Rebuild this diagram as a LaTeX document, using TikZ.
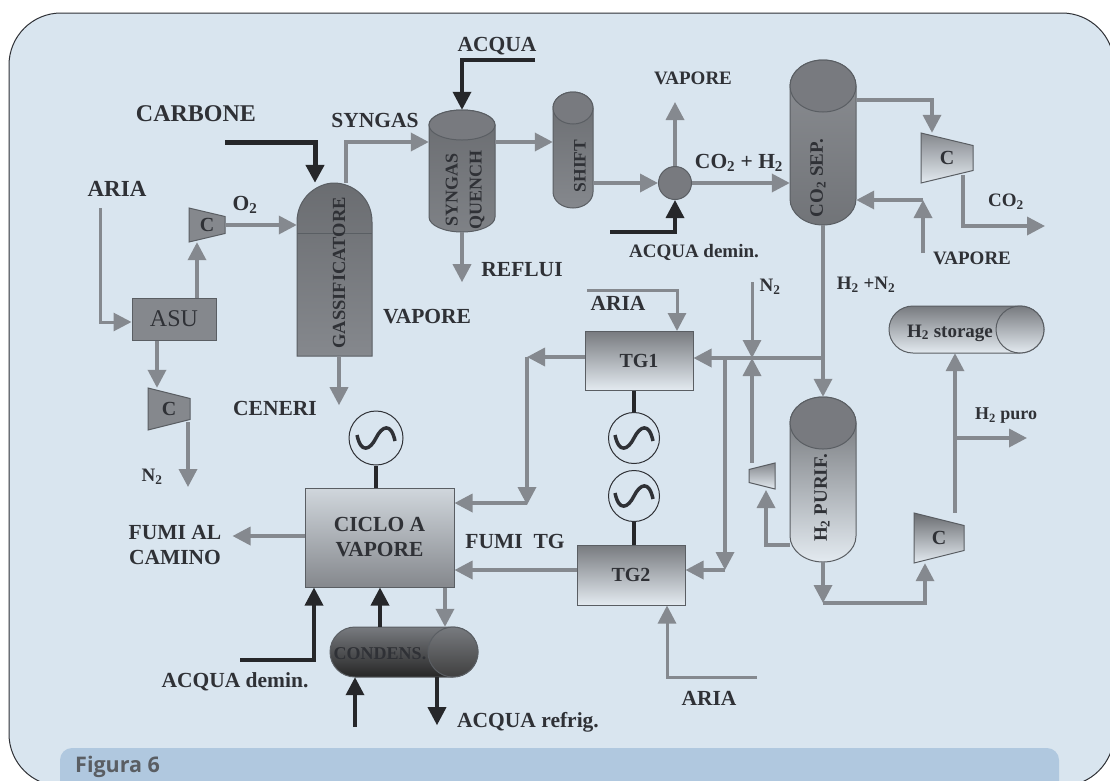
\documentclass[tikz,border=0pt]{standalone}
\usepackage{fontspec}
\setmainfont{Liberation Serif}
\newfontfamily\bandfont{Open Sans}
\usetikzlibrary{arrows.meta}
\definecolor{panelblue}{HTML}{D9E5EF}
\definecolor{bandblue}{HTML}{B0C8DF}
\definecolor{flowgray}{HTML}{85898F}
\definecolor{feedblack}{HTML}{26272A}
\definecolor{ink}{HTML}{2F3136}
\definecolor{wallgray}{HTML}{5A5E63}
\definecolor{midgray}{HTML}{85888D}
\definecolor{lightgray}{HTML}{E3EAF0}
\tikzset{
  lab/.style={font=\fontsize{21.5}{25}\selectfont\bfseries,text=ink,inner sep=0pt,align=center},
  sml/.style={font=\fontsize{19}{22}\selectfont\bfseries,text=ink,inner sep=0pt,align=center},
  rot/.style={sml,rotate=90},
  pipe/.style={line width=3.5pt,draw=flowgray},
  flow/.style={pipe,-{Triangle[width=18pt,length=18pt]}},
  sideflow/.style={flow,line width=3pt},
  feed/.style={line width=3.5pt,draw=feedblack,-{Triangle[width=18pt,length=18pt]}},
  shaft/.style={line width=3.5pt,draw=feedblack},
  wall/.style={draw=wallgray,line width=1pt},
  fade/.style={wall,top color=#1,bottom color=lightgray},
  gen/.style={circle,draw=ink,line width=1pt,minimum size=51pt,inner sep=0pt,path picture={
    \draw[line width=3.5pt,draw=ink,shift={(path picture bounding box.center)}]
      (-19,-3) .. controls (-15,16) and (-6,12) .. (0,0) .. controls (6,-12) and (15,-16) .. (19,3);}}
}
\newcommand{\vessel}[7]{
  \path[wall,#7] (#2-#5,#3+#6) arc (180:0:#5pt and #6pt) -- (#2+#5,#4-#6) arc (360:180:#5pt and #6pt) -- cycle;
  \path[wall,fill=midgray!90!black] (#2,#3+#6) ellipse (#5pt and #6pt);
  \node[inner sep=0pt,minimum width=2*#5,minimum height=#4-#3] (#1) at (#2,#3/2+#4/2) {};
}
\newcommand{\compr}[7]{
  \path[wall,#6] (#2-#4,#3-#5) -- (#2+#4,#3-#5/2) -- (#2+#4,#3+#5/2) -- (#2-#4,#3+#5) -- cycle;
  \node[inner sep=0pt,font=\fontsize{20}{22}\selectfont\bfseries,text=ink,minimum width={abs(2*#4)},minimum height=2*#5] (#1) at (#2,#3) {#7};
}
\begin{document}
\begin{tikzpicture}[x=1pt,y=-1pt]
\useasboundingbox (0,0) rectangle (1110,780);
\clip (0,0) rectangle (1110,780);
\fill[white] (0,0) rectangle (1110,780);
\draw[fill=panelblue,draw=ink,line width=1pt,rounded corners=52pt] (9,13) rectangle (1114,786);
\fill[bandblue,rounded corners=12pt] (60,748) rectangle (1059,800);
\node[font=\bandfont\fontsize{21.5}{24}\selectfont\bfseries,text=wallgray,anchor=west,inner sep=0pt] (fig) at (75,767) {Figura 6};

% gassificatore
\path[wall,top color=midgray!80!black,bottom color=midgray] (297,356) -- (297,222) .. controls (297,197) and (318,183) .. (334,183) .. controls (352,183) and (372,197) .. (372,222) -- (372,356) -- cycle;
\draw[wall] (297,233) -- (372,233);
\node[inner sep=0pt,minimum width=75,minimum height=173] (gas) at (334.5,269.5) {};
\node[rot,font=\fontsize{18.5}{20}\selectfont\bfseries] (gastxt) at (339,273) {GASSIFICATORE};

\vessel{quench}{462}{110}{232}{33}{15}{top color=midgray!80!black,bottom color=midgray!95!black}
\node[rot,font=\fontsize{18}{24}\selectfont\bfseries] (quenchtxt) at (465,190) {SYNGAS\\QUENCH};
\vessel{shift}{573}{92}{208}{20}{16}{top color=midgray!80!black,bottom color=midgray}
\node[rot,font=\fontsize{17.5}{20}\selectfont\bfseries] (shifttxt) at (580,166) {SHIFT};
\vessel{sep}{823}{60}{225}{33}{26}{top color=midgray!95,bottom color=midgray!85!black}
\node[rot] (septxt) at (818,178) {CO\textsubscript{2} SEP.};
\vessel{purif}{823}{397}{562}{33}{26}{fade=midgray!80!black}
\node[rot] (puriftxt) at (822,498) {H\textsubscript{2} PURIF.};
\node[circle,wall,fill=midgray!90!black,minimum size=33pt,inner sep=0pt] (mix) at (675,183) {};

% caldaie e turbine
\node[wall,fill=midgray,minimum width=84,minimum height=42,inner sep=0pt,font=\fontsize{24}{26}\selectfont,text=ink] (asu) at (174,319) {ASU\hspace{12pt}};
\node[fade=midgray!90!black,minimum width=108,minimum height=59,inner sep=0pt,font=\fontsize{20}{22}\selectfont\bfseries,text=ink] (tgA) at (639,360.5) {TG1\hspace{12pt}};
\node[fade=midgray!90!black,minimum width=108,minimum height=60,inner sep=0pt,font=\fontsize{20}{22}\selectfont\bfseries,text=ink] (tgB) at (631,575) {TG2\hspace{8pt}};
\node[wall,top color=lightgray!80!midgray,bottom color=midgray,minimum width=149,minimum height=99,inner sep=0pt,align=center,font=\fontsize{21.5}{25}\selectfont\bfseries,text=ink] (steam) at (379.5,537.5) {CICLO A\\VAPORE};

\compr{cAsu}{207}{225}{18}{17}{fill=midgray}{C}
\compr{cNit}{169}{409}{21}{21}{fill=midgray}{C\hspace{6pt}}
\compr{cSep}{947}{158}{26}{25}{top color=midgray,bottom color=lightgray}{C\hspace{12pt}}
\compr{cPur}{939}{538}{25}{25}{top color=midgray!80!black,bottom color=lightgray}{C\hspace{12pt}}
\compr{cRet}{762}{476}{-13}{13}{top color=midgray,bottom color=lightgray}{}

\node[gen] (genA) at (634,438) {};
\node[gen] (genB) at (634,496) {};
\node[gen,minimum size=54pt] (genC) at (376,438) {};

% serbatoi orizzontali
\path[wall,top color=midgray!90!black,bottom color=lightgray] (913,306) -- (1020,306) arc (90:-90:24pt and 23.5pt) -- (913,353) arc (270:90:24pt and 23.5pt) -- cycle;
\path[wall,top color=midgray!90!black,bottom color=lightgray] (1020,329.5) ellipse (24pt and 23.5pt);
\node[inner sep=0pt,minimum width=156,minimum height=47] (store) at (967,329.5) {};
\node[sml] (storetxt) at (950,333) {H\textsubscript{2} storage};
\path[wall,top color=midgray!90!black,bottom color=black!85] (355,627) -- (453,627) arc (90:-90:25pt and 25pt) -- (355,677) arc (270:90:25pt and 25pt) -- cycle;
\path[wall,top color=midgray!90!black,bottom color=black!75] (453,652) ellipse (25pt and 25pt);
\node[inner sep=0pt,minimum width=148,minimum height=50] (cond) at (404,652) {};
\node[font=\fontsize{18}{20}\selectfont\bfseries,text=ink,inner sep=0pt] (condtxt) at (380,654) {CONDENS.};

% coordinate libere
\coordinate (ariaA) at (100,208);
\coordinate (carb) at (225,142);
\coordinate (acq) at (535,60);
\coordinate (dem) at (610,232);
\coordinate (demB) at (240,660);
\coordinate (ariaB) at (587,290);
\coordinate (ariaC) at (757,677);
\coordinate (nitIn) at (752,282);
\coordinate (vapIn) at (923,253);
\coordinate (refrIn) at (355,727);
\coordinate (nodeA) at (823,358);
\coordinate (nodeB) at (752,358);
\coordinate (nodeC) at (725,358);
\coordinate (nodeD) at (527,357);
\coordinate (nodeE) at (923,200);
\coordinate (nodeF) at (955,438);
\coordinate (nodeG) at (823,603);

% linee aria e ossigeno
\draw[sideflow] (ariaA) |- (asu.west |- 0,322);
\draw[flow] (asu.north -| 197,0) -- (cAsu.south -| 197,0);
\draw[flow] (cAsu.east) -- (gas.west |- cAsu.east);
\draw[flow] (asu.south -| 157,0) -- (cNit.north -| 157,0);
\draw[flow] (188,422) -- (188,487);
\draw[feed,line width=5pt] (carb) -| (gas.north -| 315,0);
\draw[flow] (gas.north -| 346,0) |- (quench.west |- 0,142);
\draw[feed] (acq) -| (quench.north);
\draw[flow] (quench.east |- 0,142) -- (shift.west |- 0,142);
\draw[flow] (quench.south) -- ++(0,50);
\draw[flow] (gas.south -| 339,0) -- ++(0,49);
\draw[flow] (shift.east |- mix.west) -- (mix.west);
\draw[flow] (mix.north) -- ++(0,-64);
\draw[feed] (dem) -| (mix.south);
\draw[flow] (mix.east) -- (sep.west |- mix.east);

% separatore e compressori
\draw[flow] (sep.east |- 0,100) -| (cSep.north -| 932,0);
\draw[flow] (963,175) |- (1045,226);
\draw[flow] (vapIn) -- (nodeE);
\draw[flow] (nodeE) -- (sep.east |- nodeE);
\draw[flow] (sep.south) -- (purif.north);
\draw[flow] (nodeA) -- (tgA.east |- nodeA);
\draw[sideflow] (ariaB) -| (677,331);
\draw[sideflow] (nitIn) -- (nodeB);
\draw[flow] (nodeB |- cRet.north) -- (nodeB);
\draw[flow] (purif.west |- 0,545) -| (766,490);
\draw[flow] (nodeC) -- (725,570);
\draw[flow] (725,570) -- (tgB.east |- 0,570);
\draw[flow] (purif.south) -- (nodeG);
\draw[flow] (nodeG) -| (cPur.south -| 925,0);
\draw[flow] (cPur.north -| 955,0) -- (store.south -| 955,0);
\draw[flow] (nodeF) -- ++(72,0);

% turbine e ciclo a vapore
\draw[flow] (tgA.west |- nodeD) -- (nodeD);
\draw[flow] (nodeD) -- (527,505);
\draw[flow] (527,503) -- (steam.east |- 0,503);
\draw[flow] (tgB.west |- 0,570) -- (steam.east |- 0,570);
\draw[flow] (steam.west |- 0,536) -- ++(-72,0);
\draw[shaft] (tgA.south -| genA) -- (genA.north);
\draw[shaft] (genB.south) -- (tgB.north -| genB);
\draw[shaft] (genC.south) -- (steam.north -| genC);
\draw[sideflow] (ariaC) -| (tgB.south -| 667,0);
\draw[feed] (demB) -| (steam.south -| 314,0);
\draw[feed] (cond.north -| 380,0) -- (steam.south -| 380,0);
\draw[flow] (steam.south -| 445,0) -- (cond.north -| 445,0);
\draw[feed] (refrIn) -- (cond.south -| refrIn);
\draw[feed] (cond.south -| 437,0) -- ++(0,48);

% etichette
\node[lab,font=\fontsize{24}{26}\selectfont\bfseries] (tCarb) at (196,114) {CARBONE};
\node[lab,font=\fontsize{23}{26}\selectfont\bfseries] (tAriaA) at (117,189) {ARIA};
\node[lab] (tOx) at (245,205) {O\textsubscript{2}};
\node[lab] (tSyn) at (375,120) {SYNGAS};
\node[lab] (tAcq) at (497,46) {ACQUA};
\node[lab] (tRef) at (522,270) {REFLUI};
\node[lab] (tVapA) at (427,317) {VAPORE};
\node[lab] (tCen) at (275,408) {CENERI};
\node[sml] (tNitA) at (152,477) {N\textsubscript{2}};
\node[sml] (tVapB) at (693,78) {VAPORE};
\node[lab] (tMix) at (739,163) {CO\textsubscript{2} + H\textsubscript{2}};
\node[sml] (tDemA) at (694,252) {ACQUA demin.};
\node[sml] (tCo) at (1006,202) {CO\textsubscript{2}};
\node[sml] (tVapC) at (972,258) {VAPORE};
\node[sml] (tHn) at (866,285) {H\textsubscript{2} +N\textsubscript{2}};
\node[sml] (tNitB) at (770,287) {N\textsubscript{2}};
\node[lab] (tAriaB) at (618,303) {ARIA};
\node[font=\fontsize{18}{20}\selectfont\bfseries,text=ink,inner sep=0pt] (tPuro) at (1006,416) {H\textsubscript{2} puro};
\node[lab] (tFum) at (175,545) {FUMI AL\\CAMINO};
\node[lab] (tFumB) at (515,541) {FUMI\ \ TG};
\node[lab] (tDemB) at (235,682) {ACQUA demin.};
\node[lab] (tRefr) at (528,722) {ACQUA refrig.};
\node[lab] (tAriaC) at (709,698) {ARIA};
\end{tikzpicture}
\end{document}
